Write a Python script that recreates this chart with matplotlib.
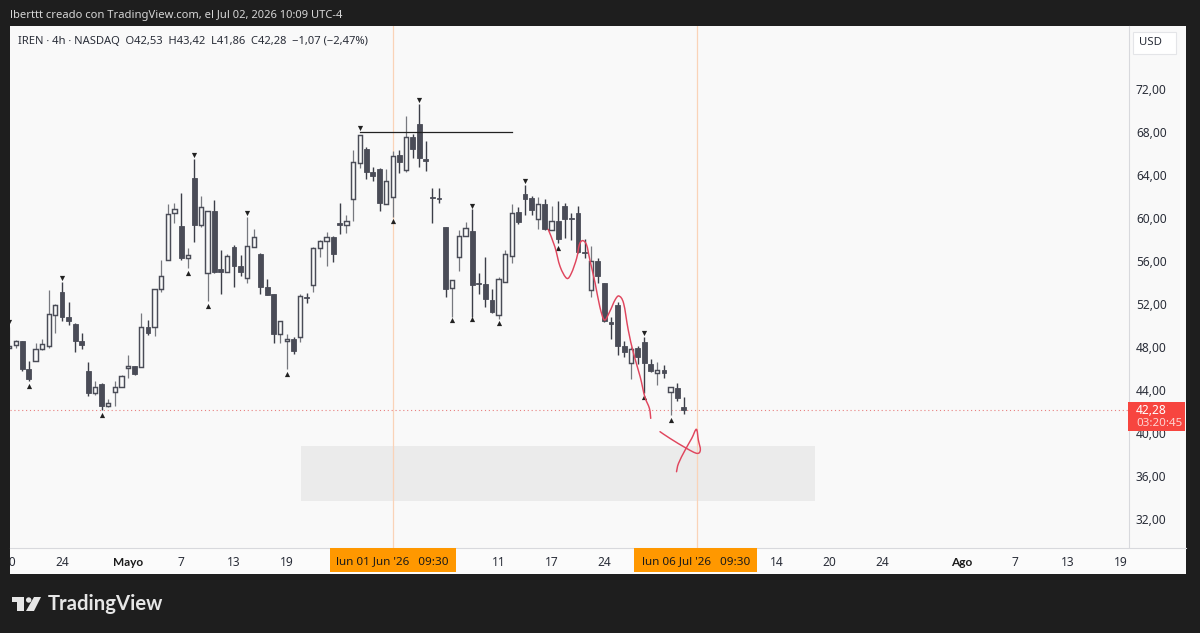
import numpy as np
import matplotlib
matplotlib.use("Agg")
import matplotlib.pyplot as plt
from matplotlib.patches import Rectangle, Polygon, Circle, PathPatch
from matplotlib.path import Path

plt.rcParams['font.family'] = ['Noto Sans', 'DejaVu Sans']

opens = [48.06, 48.27, 48.71, 46.04, 46.78, 47.90, 48.24, 51.07, 53.24, 50.94,
         50.26, 48.71, 45.85, 43.83, 44.64, 42.62, 43.96, 44.42, 46.13, 46.35,
         46.22, 49.95, 50.01, 53.49, 56.22, 60.57, 59.39, 56.44, 63.89, 59.51,
         55.00, 60.81, 55.35, 55.07, 57.46, 55.63, 54.51, 57.43, 56.78, 53.74,
         53.08, 49.36, 48.65, 48.86, 49.05, 52.77, 53.92, 57.31, 58.02, 58.39,
         59.63, 59.45, 61.87, 65.22, 66.52, 64.44, 64.66, 61.47, 62.09, 65.97,
         64.57, 67.67, 68.85, 65.59, 62.06, 62.02, 59.26, 53.64, 56.53, 58.42,
         58.95, 54.05, 54.02, 52.49, 51.13, 54.14, 56.56, 60.69, 62.33, 61.96,
         60.01, 61.40, 58.98, 59.82, 61.25, 60.10, 60.60, 56.96, 53.43, 56.16,
         54.08, 50.47, 52.02, 48.21, 46.59, 47.99, 48.58, 46.56, 45.69, 45.97,
         43.95, 44.33, 42.53]
highs = [50.01, 48.77, 48.71, 46.81, 48.46, 48.83, 53.43, 52.09, 54.20, 52.31,
         50.38, 49.45, 46.72, 44.95, 44.73, 43.31, 44.95, 45.51, 47.37, 46.35,
         51.32, 50.63, 53.52, 56.19, 61.40, 61.50, 62.46, 57.31, 65.62, 62.18,
         60.81, 61.81, 57.15, 56.78, 57.62, 56.68, 60.25, 59.07, 56.90, 54.42,
         53.08, 50.51, 49.30, 49.02, 53.05, 53.12, 57.46, 58.08, 58.80, 58.45,
         61.50, 60.41, 66.46, 67.83, 66.71, 64.85, 64.79, 64.66, 66.37, 66.46,
         69.63, 67.92, 70.75, 67.27, 62.89, 62.89, 59.32, 54.39, 59.01, 59.73,
         60.94, 54.98, 56.47, 53.55, 54.61, 57.15, 61.43, 61.12, 63.23, 62.18,
         62.05, 61.90, 61.25, 61.68, 61.56, 60.56, 61.25, 58.21, 57.52, 56.37,
         54.08, 50.94, 52.33, 48.70, 48.14, 48.21, 49.01, 46.97, 46.69, 46.44,
         44.36, 44.76, 43.42]
lows = [48.00, 48.00, 45.91, 44.98, 46.78, 47.84, 48.00, 49.45, 50.57, 50.20,
        47.68, 47.90, 43.56, 43.65, 42.25, 42.50, 42.62, 44.42, 45.20, 45.48,
        46.22, 49.27, 49.14, 53.27, 56.22, 59.70, 56.25, 55.47, 57.93, 59.26,
        52.43, 55.04, 53.05, 55.07, 53.74, 54.73, 54.05, 57.43, 53.05, 52.93,
        48.52, 48.46, 46.04, 47.47, 48.61, 52.25, 53.21, 56.50, 55.66, 56.03,
        58.64, 58.76, 59.85, 64.82, 63.76, 63.61, 60.75, 61.47, 60.25, 64.35,
        64.41, 65.69, 64.85, 64.51, 59.70, 61.50, 52.80, 50.94, 55.19, 58.42,
        50.94, 53.05, 51.87, 51.25, 50.76, 54.14, 55.97, 59.57, 60.44, 60.44,
        59.14, 59.01, 58.98, 57.83, 58.30, 58.08, 56.84, 56.37, 52.77, 54.11,
        50.48, 48.89, 47.37, 47.21, 45.13, 46.50, 43.80, 45.79, 44.57, 45.26,
        41.78, 43.12, 41.86]
closes = [48.24, 48.71, 46.04, 45.11, 47.90, 48.37, 51.16, 52.00, 50.94, 50.54,
          48.71, 48.33, 43.87, 44.42, 42.65, 42.87, 44.42, 45.42, 46.35, 45.63,
          49.95, 49.42, 53.52, 54.73, 60.53, 60.94, 56.44, 56.65, 59.51, 61.15,
          60.81, 55.13, 55.07, 56.59, 55.66, 55.13, 57.52, 58.39, 53.74, 52.93,
          49.36, 50.51, 48.86, 47.78, 52.87, 52.65, 57.31, 58.02, 58.36, 56.81,
          59.45, 59.82, 65.31, 67.83, 64.44, 64.01, 61.53, 63.61, 65.87, 65.38,
          67.67, 66.59, 65.72, 65.47, 61.99, 61.90, 53.55, 54.39, 58.45, 59.17,
          53.89, 53.98, 52.59, 51.41, 54.45, 56.75, 60.56, 59.73, 61.93, 60.91,
          61.40, 59.11, 59.88, 58.17, 60.07, 60.01, 56.93, 56.90, 56.10, 54.70,
          50.57, 50.29, 48.21, 47.68, 47.93, 47.15, 46.62, 45.85, 46.00, 45.72,
          44.36, 43.33, 42.28]

# pivot markers
pivot_high_bars = [0, 8, 28, 36, 53, 62, 70, 78, 96]
pivot_high_vals = [50.48, 54.51, 66.00, 60.63, 68.54, 71.12, 61.28, 63.58, 49.39]
pivot_low_bars = [3, 14, 27, 30, 42, 58, 67, 70, 74, 83, 96, 100]
pivot_low_vals = [44.49, 41.79, 55.00, 51.94, 45.57, 59.85, 50.63, 50.73, 50.32, 57.31, 43.46, 41.32]

# hand drawn red strokes
stroke1_x = [81.5, 82.5, 83.3, 84.3, 85.0, 85.8, 86.2, 86.7, 87.3, 87.8, 88.6, 89.3, 90.0,
             90.8, 91.6, 92.2, 92.9, 93.6, 94.4, 95.4, 96.1, 96.8, 97.0]
stroke1_y = [59.07, 57.46, 55.60, 54.51, 54.98, 56.37, 57.62, 58.02, 57.62, 56.22, 54.05, 51.87, 50.63,
             51.41, 52.49, 52.86, 52.18, 49.70, 47.52, 45.35, 43.49, 42.40, 41.47]
stroke2_x = [98.4, 99.9, 102.4, 104.0, 104.5, 104.2, 103.9, 103.2, 102.2, 101.2, 100.9]
stroke2_y = [40.23, 39.61, 38.68, 38.21, 38.53, 39.45, 40.45, 39.61, 38.52, 37.28, 36.50]

last_price = 42.28
level_price = 68.09
level_bars = [53, 76]
zone_bars = [44.1, 121.8]
zone_prices = [33.78, 38.90]
cross_bars = [58, 104]
cross_labels = ["lun 01 Jun '26   09:30", "lun 06 Jul '26   09:30"]
cross_box_left = [48.5, 94.5]
cross_box_right = [67.5, 113.1]

price_ticks = [72, 68, 64, 60, 56, 52, 48, 44, 40, 36, 32]
time_bars = [0, 8, 18, 26, 34, 42, 74, 82, 90, 116, 124, 132, 144, 152, 160, 168]
time_labels = ['30', '24', 'Mayo', '7', '13', '19', '11', '17', '24', '14', '20', '24', 'Ago', '7', '13', '19']

DARK = '#1e1e1e'
PANE = '#f9f9f9'
CANDLE = '#4a4c57'
RED = '#e0465e'
W, H = 1200, 633


def axes_px(x0, y0, x1, y1):
    return fig.add_axes([x0 / W, 1 - y1 / H, (x1 - x0) / W, (y1 - y0) / H])


def smooth_stroke(xs, ys):
    # catmull-rom through the read points, the strokes are freehand
    p = np.column_stack([xs, ys])
    p = np.vstack([p[0], p, p[-1]])
    verts = [p[1]]
    codes = [Path.MOVETO]
    for i in range(1, len(p) - 2):
        verts += [p[i] + (p[i + 1] - p[i - 1]) / 6, p[i + 1] - (p[i + 2] - p[i]) / 6, p[i + 1]]
        codes += [Path.CURVE4] * 3
    return PathPatch(Path(verts, codes), fill=False, edgecolor=RED, lw=1.05, zorder=5, capstyle='round')


fig = plt.figure(figsize=(12, 6.33), dpi=100, facecolor=DARK)

ax = axes_px(10, 26, 1129, 548)
ax.set_facecolor(PANE)
ax.set_xlim(0.14, 169.3)
ax.set_ylim(29.4, 78.0)
ax.set_xticks([])
ax.set_yticks([])
for s in ax.spines.values():
    s.set_visible(False)

ax.add_patch(Rectangle((zone_bars[0], zone_prices[0]), zone_bars[1] - zone_bars[0],
                       zone_prices[1] - zone_prices[0], color='#ebebeb', lw=0, zorder=1))
for b in cross_bars:
    ax.axvline(b, color='#fad3b8', lw=0.9, zorder=1.5)
ax.axhline(last_price, color='#e8807f', lw=0.8, ls=(0, (1, 2.5)), zorder=1.5)

bars = np.arange(len(opens))
o = np.array(opens)
c = np.array(closes)
up = c >= o
ax.vlines(bars[up], np.array(lows)[up], np.array(highs)[up], color='#77797f', lw=0.9, zorder=2)
ax.vlines(bars[~up], np.array(lows)[~up], np.array(highs)[~up], color='#3c3e48', lw=1.0, zorder=2)
ax.bar(bars[up], (c - o)[up], bottom=o[up], width=0.64, facecolor=PANE, edgecolor=CANDLE, lw=1.05, zorder=3)
ax.bar(bars[~up], (c - o)[~up], bottom=o[~up], width=0.74, facecolor=CANDLE, edgecolor=CANDLE, lw=0.6, zorder=3)

ax.scatter(pivot_high_bars, pivot_high_vals, marker='v', s=14, color='#222222', lw=0, zorder=4)
ax.scatter(pivot_low_bars, pivot_low_vals, marker='^', s=14, color='#222222', lw=0, zorder=4)

ax.plot(level_bars, [level_price, level_price], color='#222222', lw=0.9, zorder=4)
ax.add_patch(smooth_stroke(stroke1_x, stroke1_y))
ax.add_patch(smooth_stroke(stroke2_x, stroke2_y))

# price scale
ax_p = axes_px(1129, 26, 1186, 548)
ax_p.set_facecolor(PANE)
ax_p.set_xlim(0, 57)
ax_p.set_ylim(ax.get_ylim())
ax_p.set_xticks([])
ax_p.set_yticks([])
for s in ax_p.spines.values():
    s.set_visible(False)
ax_p.spines['left'].set_visible(True)
ax_p.spines['left'].set_color('#d8d9dd')
for v in price_ticks:
    ax_p.text(7, v, f'{v:.2f}'.replace('.', ','), fontsize=8.6, color='#2a2e39', va='center', ha='left')
ax_p.add_patch(Rectangle((-1.5, last_price - 2.03), 57.5, 2.78, color='#f7453f', lw=0, zorder=5, clip_on=False))
ax_p.text(7, last_price - 0.05, f'{last_price:.2f}'.replace('.', ','), fontsize=8.6, color='#ffffff',
          va='center', ha='left', zorder=6)
ax_p.text(7, last_price - 1.25, '03:20:45', fontsize=8.3, color='#fdd5d2', va='center', ha='left', zorder=6)

# time scale
ax_t = axes_px(10, 548, 1186, 574)
ax_t.set_facecolor('#fbfbfb')
ax_t.set_xlim(0.14, 0.14 + 1176 / 6.615)
ax_t.set_ylim(0, 26)
ax_t.set_xticks([])
ax_t.set_yticks([])
for s in ax_t.spines.values():
    s.set_visible(False)
ax_t.spines['top'].set_visible(True)
ax_t.spines['top'].set_color('#d8d9dd')
for b, lab in zip(time_bars, time_labels):
    if lab in ('Mayo', 'Ago'):
        ax_t.text(b, 12, lab, fontsize=8.6, color='#1a1a1a', va='center', ha='center',
                  family='Lato', fontweight='bold', clip_on=True)
    else:
        ax_t.text(b, 12, lab, fontsize=8.6, color='#2a2e39', va='center', ha='center', clip_on=True)
for left, right, lab in zip(cross_box_left, cross_box_right, cross_labels):
    ax_t.add_patch(Rectangle((left, 2), right - left, 24, color='#ff9800', lw=0, zorder=3))
    ax_t.text((left + right) / 2, 12.5, lab, fontsize=8.4, color='#1a1a1a', va='center', ha='center', zorder=4)

# overlay for title, legend, USD box, logo
ov = fig.add_axes([0, 0, 1, 1], facecolor='none')
ov.set_xlim(0, W)
ov.set_ylim(H, 0)
ov.axis('off')
ov.text(10, 15.5, 'lberttt creado con TradingView.com, el Jul 02, 2026 10:09 UTC-4',
        fontsize=8.05, color='#d6d6d6', va='center', ha='left')
ov.text(18, 41, 'IREN · 4h · NASDAQ  O42,53  H43,42  L41,86  C42,28  −1,07 (−2,47%)',
        fontsize=8.05, color='#2a2e39', va='center', ha='left')
ov.add_patch(Rectangle((1133, 32), 43, 22, facecolor='#ffffff', edgecolor='#e4e5e8', lw=0.8))
ov.text(1150, 42.5, 'USD', fontsize=8.2, color='#2a2e39', va='center', ha='center')

ov.add_patch(Polygon([(12, 597), (24, 597), (24, 611), (17, 611), (17, 602), (12, 602)], color='#e6e6e6', lw=0))
ov.add_patch(Circle((28.7, 600), 2.7, color='#e6e6e6', lw=0))
ov.add_patch(Polygon([(34, 597), (41, 597), (34, 611), (26, 611)], color='#e6e6e6', lw=0))
ov.text(47.5, 604, 'TradingView', fontsize=14.6, color='#e6e6e6', va='center', ha='left',
        family='Lato', fontweight='bold')

fig.savefig('out.png', dpi=100, facecolor=DARK)
